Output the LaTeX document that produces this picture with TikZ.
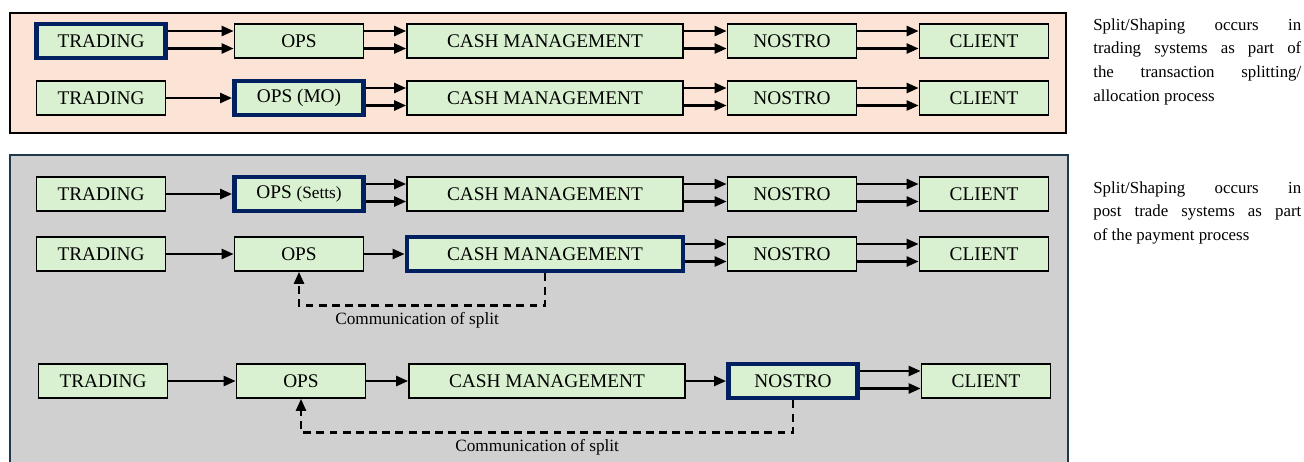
\documentclass[tikz,border=0pt]{standalone}
\usepackage{fontspec}
\setmainfont{Liberation Serif}
\usetikzlibrary{arrows.meta,calc}
\definecolor{peachbg}{RGB}{251,227,214}
\definecolor{greybg}{RGB}{208,208,208}
\definecolor{boxgreen}{RGB}{217,241,208}
\definecolor{keynavy}{RGB}{0,32,96}
\definecolor{slateedge}{RGB}{31,56,76}
\tikzset{
    procbox/.style={
        draw=black, line width=1pt, fill=boxgreen,
        minimum height=0.68cm, inner sep=0pt,
        font=\fontsize{11}{13}\selectfont
    },
    narrowbox/.style={procbox, minimum width=2.58cm},
    widebox/.style={procbox, minimum width=5.52cm},
    splitbox/.style={draw=keynavy, line width=2.8pt},
    flow/.style={
        line width=1.4pt,
        -{Triangle[length=2.4mm,width=2mm]}
    },
    commlink/.style={
        line width=1.4pt, dash pattern=on 4.5pt off 3pt,
        -{Triangle[length=2.4mm,width=2mm]}
    },
    commlabel/.style={font=\fontsize{9.8}{11}\selectfont, inner sep=2pt},
    sidenote/.style={
        anchor=north west, text width=4.16cm, align=justify, inner sep=0pt,
        font=\fontsize{9.6}{13.6}\selectfont
    }
}
% two parallel arrows between neighbouring boxes
\newcommand{\twoflows}[2]{%
    \draw[flow] ([yshift=0.2cm]#1.east) -- ([yshift=0.2cm]#2.west);
    \draw[flow] ([yshift=-0.15cm]#1.east) -- ([yshift=-0.15cm]#2.west);
}
\newcommand{\oneflow}[2]{%
    \draw[flow] (#1) -- (#2);
}

\begin{document}
\begin{tikzpicture}[x=0.02cm, y=-0.02cm]
    \useasboundingbox (0,0) rectangle (1304,461);
    \clip (0,0) rectangle (1304,461);

    % panels
    \draw[line width=1.5pt, fill=peachbg] (10,13) rectangle (1066,133);
    \draw[line width=1.5pt, draw=slateedge, fill=greybg] (10,155) rectangle (1068,480);

    % front office split
    \node[narrowbox, splitbox] (T1) at (101,41) {TRADING};
    \node[narrowbox] (O1) at (299,41) {OPS};
    \node[widebox] (C1) at (545,41) {CASH MANAGEMENT};
    \node[narrowbox] (N1) at (792,41) {NOSTRO};
    \node[narrowbox] (L1) at (984,41) {CLIENT};
    \twoflows{T1}{O1}
    \twoflows{O1}{C1}
    \twoflows{C1}{N1}
    \twoflows{N1}{L1}

    % middle office split
    \node[narrowbox] (T2) at (101,98) {TRADING};
    \node[narrowbox, splitbox] (O2) at (299,98) {OPS (MO)};
    \node[widebox] (C2) at (545,98) {CASH MANAGEMENT};
    \node[narrowbox] (N2) at (792,98) {NOSTRO};
    \node[narrowbox] (L2) at (984,98) {CLIENT};
    \oneflow{T2}{O2}
    \twoflows{O2}{C2}
    \twoflows{C2}{N2}
    \twoflows{N2}{L2}

    % settlements split
    \node[narrowbox] (T3) at (101,194) {TRADING};
    \node[narrowbox, splitbox] (O3) at (299,194) {OPS \fontsize{9.8}{11}\selectfont(Setts)};
    \node[widebox] (C3) at (545,194) {CASH MANAGEMENT};
    \node[narrowbox] (N3) at (792,194) {NOSTRO};
    \node[narrowbox] (L3) at (984,194) {CLIENT};
    \oneflow{T3}{O3}
    \twoflows{O3}{C3}
    \twoflows{C3}{N3}
    \twoflows{N3}{L3}

    % cash management split
    \node[narrowbox] (T4) at (101,254) {TRADING};
    \node[narrowbox] (O4) at (299,254) {OPS};
    \node[widebox, splitbox] (C4) at (545,254) {CASH MANAGEMENT};
    \node[narrowbox] (N4) at (792,254) {NOSTRO};
    \node[narrowbox] (L4) at (984,254) {CLIENT};
    \oneflow{T4}{O4}
    \oneflow{O4}{C4}
    \twoflows{C4}{N4}
    \twoflows{N4}{L4}
    \draw[commlink] (C4.south) -- ++(0,32)
        -| node[commlabel, pos=0.26, below=1pt] {Communication of split} (O4.south);

    % nostro split
    \node[narrowbox] (T5) at (103,381) {TRADING};
    \node[narrowbox] (O5) at (301,381) {OPS};
    \node[widebox] (C5) at (547,381) {CASH MANAGEMENT};
    \node[narrowbox, splitbox] (N5) at (793,381) {NOSTRO};
    \node[narrowbox] (L5) at (986,381) {CLIENT};
    \oneflow{T5}{O5}
    \oneflow{O5}{C5}
    \oneflow{C5}{N5}
    \twoflows{N5}{L5}
    \draw[commlink] (N5.south) -- ++(0,32)
        -| node[commlabel, pos=0.26, below=1pt] {Communication of split} (O5.south);

    % notes on the right
    \node[sidenote] (note1) at (1093,18)
        {Split/Shaping occurs in\linebreak trading systems as part of\linebreak
         the transaction splitting/\linebreak allocation process};
    \node[sidenote] (note2) at (1093,181)
        {Split/Shaping occurs in\linebreak post trade systems as part\linebreak
         of the payment process};
\end{tikzpicture}
\end{document}
